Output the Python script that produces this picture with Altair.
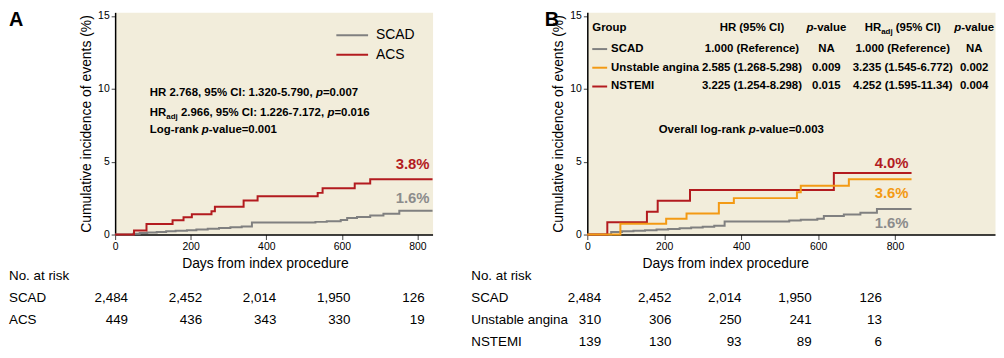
import altair as alt
import pandas as pd

FN = "Liberation Sans, Arial, Helvetica, sans-serif"
FR = "Liberation Sans, Arial, Helvetica, sans-serif"
BEIGE = "#F2EDDB"
GRAY = "#808080"
RED = "#B31B1F"
ORANGE = "#F39A14"
LBL_GRAY = "#8C8C8C"

# ---------------- data: panel A ----------------
a_scad_days = [0, 48, 65, 85, 110, 135, 160, 190, 215, 245, 275, 305, 335, 362, 530, 560, 597, 614, 640, 675, 710, 752, 840]
a_scad_vals = [0, 0.05, 0.1, 0.14, 0.18, 0.22, 0.26, 0.3, 0.35, 0.4, 0.45, 0.5, 0.56, 0.82, 0.87, 0.92, 1.0, 1.14, 1.2, 1.3, 1.42, 1.64, 1.64]
a_acs_days = [0, 50, 83, 152, 181, 203, 255, 264, 340, 377, 536, 549, 634, 675, 840]
a_acs_vals = [0, 0.27, 0.72, 0.98, 1.18, 1.4, 1.6, 1.9, 2.34, 2.63, 2.86, 3.17, 3.5, 3.8, 3.8]
a_end_labels = ["1.6%", "3.8%"]

# ---------------- data: panel B ----------------
b_scad_days = [0, 62, 90, 120, 150, 180, 210, 240, 270, 300, 330, 357, 525, 555, 598, 615, 667, 710, 753, 843]
b_scad_vals = [0, 0.18, 0.22, 0.26, 0.3, 0.34, 0.38, 0.43, 0.48, 0.53, 0.6, 0.89, 0.96, 1.02, 1.09, 1.27, 1.38, 1.5, 1.76, 1.76]
b_ua_days = [0, 86, 205, 258, 342, 381, 545, 555, 680, 843]
b_ua_vals = [0, 0.74, 1.09, 1.45, 2.17, 2.5, 2.9, 3.35, 3.8, 3.8]
b_nstemi_days = [0, 52, 155, 183, 267, 641, 843]
b_nstemi_vals = [0, 0.85, 1.56, 2.32, 3.06, 4.22, 4.22]
b_end_labels = ["1.6%", "3.6%", "4.0%"]

# ---------------- risk tables ----------------
risk_days = [0, 200, 400, 600, 800]
a_risk_groups = ["SCAD", "ACS"]
a_risk_scad = [2484, 2452, 2014, 1950, 126]
a_risk_acs = [449, 436, 343, 330, 19]
b_risk_groups = ["SCAD", "Unstable angina", "NSTEMI"]
b_risk_scad = [2484, 2452, 2014, 1950, 126]
b_risk_ua = [310, 306, 250, 241, 13]
b_risk_nstemi = [139, 130, 93, 89, 6]

# ---------------- panel B HR table ----------------
b_groups = ["SCAD", "Unstable angina", "NSTEMI"]
b_hr = ["1.000 (Reference)", "2.585 (1.268-5.298)", "3.225 (1.254-8.298)"]
b_hr_p = ["NA", "0.009", "0.015"]
b_hradj = ["1.000 (Reference)", "3.235 (1.545-6.772)", "4.252 (1.595-11.34)"]
b_hradj_p = ["NA", "0.002", "0.004"]

# ---------------- layout ----------------
H = 224
YMAX = 15.25
WA, WB = 320, 411
XMAX_A, XMAX_B = 840, 1060
SZ = 11.5          # bold annotation text
SZ_RISK = 13.5     # risk table
SZ_TICK = 10.5
ONE = pd.DataFrame({"k": [0]})


def dpy(v):
    return (YMAX - v) / YMAX * H


BW = {' ': 278, '%': 889, '(': 333, ')': 333, ',': 278, '-': 333, '.': 278, ':': 333, '=': 584}
for _d in '0123456789':
    BW[_d] = 556
BW.update({'A': 722, 'C': 722, 'D': 722, 'E': 667, 'G': 778, 'H': 722, 'I': 278, 'L': 611, 'M': 833,
           'N': 722, 'O': 778, 'R': 722, 'S': 667, 'T': 611, 'U': 722})
BW.update({'a': 556, 'b': 611, 'c': 556, 'd': 611, 'e': 556, 'f': 333, 'g': 611, 'h': 611, 'i': 278,
           'j': 278, 'k': 556, 'l': 278, 'm': 889, 'n': 611, 'o': 611, 'p': 611, 'r': 389, 's': 556,
           't': 333, 'u': 611, 'v': 556, 'x': 556, 'y': 556})


def width(s, size):
    return sum(BW.get(c, 556) for c in s) * size / 1000.0


def txt(s, x, y, size=SZ, bold=True, italic=False, font=FN, color="black", align="left",
        baseline="middle", dy=0):
    return alt.Chart(ONE).mark_text(
        text=s, font=font, fontSize=size, fontWeight="bold" if bold else "normal",
        fontStyle="italic" if italic else "normal", color=color, align=align,
        baseline=baseline, dy=dy).encode(x=x, y=y)


def rich(segs, x, y, size=SZ, align="left"):
    sub = 8
    ws = [width(s, sub if st == "sub" else size) for s, st in segs]
    x0 = x - sum(ws) / 2.0 if align == "center" else x
    out = []
    for (s, st), w in zip(segs, ws):
        fs = sub if st == "sub" else size
        lead = len(s) - len(s.lstrip(' '))
        xs = x0 + width(' ' * lead, fs)
        out.append(txt(s.strip(' '), alt.value(xs), alt.value(y), size=fs, italic=(st == "i"),
                       dy=4 if st == "sub" else 0))
        x0 += w
    return out


def axes(xmax, title_x):
    xa = alt.Axis(values=risk_days, format="d", title="Days from index procedure", titleFont=FR,
                  titleFontSize=14, titleFontWeight="normal", titleColor="black", titleX=title_x,
                  titleY=29, titleBaseline="middle", labelFont=FN, labelFontSize=SZ_TICK,
                  labelColor="black", labelPadding=2, labelFlush=False, tickSize=5,
                  tickColor="#444444", domainColor="black", domainWidth=1.5, grid=False)
    ya = alt.Axis(values=[0, 5, 10, 15], title="Cumulative incidence of events (%)", titleFont=FR,
                  titleFontSize=14, titleFontWeight="normal", titleColor="black", titlePadding=4,
                  labelFont=FN, labelFontSize=SZ_TICK, labelColor="black", labelPadding=2, tickSize=4,
                  tickColor="#444444", domainColor="black", domainWidth=1.5, grid=False)
    xs = alt.Scale(domain=[0, xmax], nice=False, zero=False)
    ys = alt.Scale(domain=[0, YMAX], nice=False)
    return xa, ya, xs, ys


def step(days, vals, color, ax):
    xa, ya, xs, ys = ax
    df = pd.DataFrame({"day": days, "pct": vals})
    return alt.Chart(df).mark_line(interpolate="step-after", color=color, strokeWidth=2).encode(
        x=alt.X("day:Q", scale=xs, axis=xa), y=alt.Y("pct:Q", scale=ys, axis=ya))


def end_label(days, vals, label, color, dy, ax):
    xa, ya, xs, ys = ax
    df = pd.DataFrame({"day": [days[-1]], "pct": [vals[-1]], "lab": [label]})
    return alt.Chart(df).mark_text(font=FN, fontSize=15, fontWeight="bold", color=color,
                                   align="right", baseline="middle", dx=-3, dy=dy).encode(
        x=alt.X("day:Q", scale=xs, axis=xa), y=alt.Y("pct:Q", scale=ys, axis=ya), text="lab:N")


def table_domain(px0, px800, w):
    s = (px800 - px0) / 800.0
    d0 = -px0 / s
    return [d0, d0 + w / s]


ROW_HEAD = H + 42
ROWS = [H + 64, H + 86, H + 108]


def risk_layer(counts, ypx, dom):
    df = pd.DataFrame({"day": risk_days, "n": counts})
    return alt.Chart(df).mark_text(font=FN, fontSize=SZ_RISK, align="right", baseline="middle",
                                   color="black").encode(
        x=alt.X("day:Q", scale=alt.Scale(domain=dom, nice=False, zero=False), axis=None),
        y=alt.value(ypx), text=alt.Text("n:Q", format=","))


def leg_line(x1, x2, y, color):
    return alt.Chart(ONE).mark_rule(color=color, strokeWidth=2).encode(
        x=alt.value(x1), x2=alt.value(x2), y=alt.value(y))


# ---------------- panel A ----------------
axA = axes(XMAX_A, 151)
a_layers = [
    step(a_scad_days, a_scad_vals, GRAY, axA),
    step(a_acs_days, a_acs_vals, RED, axA),
    end_label(a_acs_days, a_acs_vals, a_end_labels[1], RED, -15, axA),
    end_label(a_scad_days, a_scad_vals, a_end_labels[0], LBL_GRAY, -13, axA),
    leg_line(223, 255, dpy(13.68), GRAY),
    leg_line(223, 255, dpy(12.34), RED),
    txt("SCAD", alt.value(263), alt.value(dpy(13.68)), size=14, bold=False, font=FR),
    txt("ACS", alt.value(263), alt.value(dpy(12.34)), size=14, bold=False, font=FR),
    txt("A", alt.value(-107), alt.value(-2), size=20, baseline="top"),
    txt("No. at risk", alt.value(-107), alt.value(ROW_HEAD), size=SZ_RISK, bold=False),
]
a_layers += rich([("HR 2.768, 95% CI: 1.320-5.790, ", "n"), ("p", "i"), ("=0.007", "n")], 35, dpy(9.71))
a_layers += rich([("HR", "n"), ("adj", "sub"), (" 2.966, 95% CI: 1.226-7.172, ", "n"), ("p", "i"),
                  ("=0.016", "n")], 35, dpy(8.37))
a_layers += rich([("Log-rank ", "n"), ("p", "i"), ("-value=0.001", "n")], 35, dpy(7.17))
for g, yy in zip(a_risk_groups, ROWS):
    a_layers.append(txt(g, alt.value(-107), alt.value(yy), size=SZ_RISK, bold=False))

domA = table_domain(13, 312, WA)
a_table = [risk_layer(a_risk_scad, ROWS[0], domA), risk_layer(a_risk_acs, ROWS[1], domA)]

panelA = alt.layer(alt.layer(*a_layers), alt.layer(*a_table)).resolve_scale(
    x="independent").properties(width=WA, height=H)

# ---------------- panel B ----------------
axB = axes(XMAX_B, 139)
b_layers = [
    step(b_scad_days, b_scad_vals, GRAY, axB),
    step(b_nstemi_days, b_nstemi_vals, RED, axB),
    step(b_ua_days, b_ua_vals, ORANGE, axB),
    end_label(b_nstemi_days, b_nstemi_vals, b_end_labels[2], RED, -10, axB),
    end_label(b_ua_days, b_ua_vals, b_end_labels[1], ORANGE, 14, axB),
    end_label(b_scad_days, b_scad_vals, b_end_labels[0], LBL_GRAY, 14, axB),
    txt("B", alt.value(-43), alt.value(-2), size=20, baseline="top"),
    txt("No. at risk", alt.value(-117), alt.value(ROW_HEAD), size=SZ_RISK, bold=False),
    txt("Group", alt.value(5), alt.value(dpy(14.2))),
    txt("HR (95% CI)", alt.value(166), alt.value(dpy(14.2)), align="center"),
]
b_layers += rich([("p", "i"), ("-value", "n")], 241, dpy(14.2), align="center")
b_layers += rich([("HR", "n"), ("adj", "sub"), (" (95% CI)", "n")], 318, dpy(14.2), align="center")
b_layers += rich([("p", "i"), ("-value", "n")], 390, dpy(14.2), align="center")
row_vals = [12.73, 11.45, 10.16]
for i, (col, v) in enumerate(zip([GRAY, ORANGE, RED], row_vals)):
    yy = dpy(v)
    b_layers.append(leg_line(5, 20, yy, col))
    b_layers.append(txt(b_groups[i], alt.value(24), alt.value(yy)))
    b_layers.append(txt(b_hr[i], alt.value(166), alt.value(yy), align="center"))
    b_layers.append(txt(b_hr_p[i], alt.value(241), alt.value(yy), align="center"))
    b_layers.append(txt(b_hradj[i], alt.value(318), alt.value(yy), align="center"))
    b_layers.append(txt(b_hradj_p[i], alt.value(390), alt.value(yy), align="center"))
b_layers += rich([("Overall log-rank ", "n"), ("p", "i"), ("-value=0.003", "n")], 72, dpy(7.17))
for g, yy in zip(b_risk_groups, ROWS):
    b_layers.append(txt(g, alt.value(-117), alt.value(yy), size=SZ_RISK, bold=False))

domB = table_domain(14, 297, WB)
b_table = [risk_layer(b_risk_scad, ROWS[0], domB), risk_layer(b_risk_ua, ROWS[1], domB),
           risk_layer(b_risk_nstemi, ROWS[2], domB)]

panelB = alt.layer(alt.layer(*b_layers), alt.layer(*b_table)).resolve_scale(
    x="independent").properties(width=WB, height=H)

chart = alt.hconcat(panelA, panelB, spacing=33).properties(padding=0).configure_view(
    fill=BEIGE, stroke="transparent")

chart.save("out.html", embed_options={"renderer": "svg", "actions": False})
